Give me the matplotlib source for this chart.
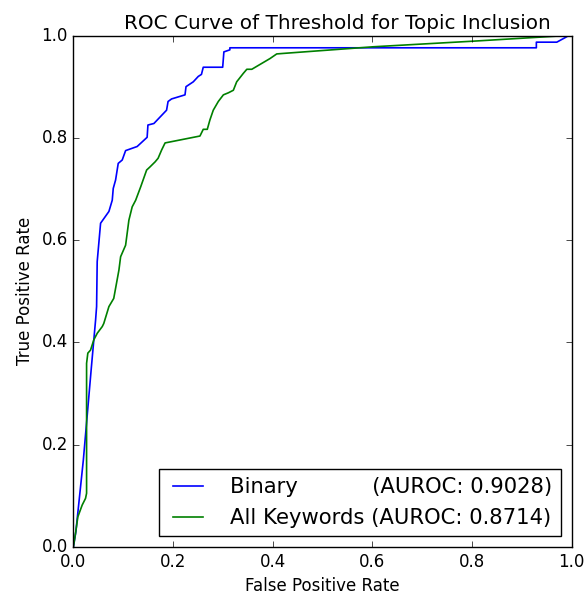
import matplotlib
matplotlib.use("Agg")
import matplotlib.pyplot as plt

# ROC points (false positive rate, true positive rate)
binary_fpr = [0.0, 0.005, 0.02, 0.028, 0.036, 0.0446, 0.0466, 0.0478, 0.0546, 0.0713,
              0.078, 0.080, 0.0847, 0.090, 0.098, 0.1048, 0.128, 0.148, 0.1496, 0.1616,
              0.187, 0.190, 0.197, 0.224, 0.226, 0.2406, 0.2506, 0.257, 0.2606, 0.2996,
              0.302, 0.314, 0.314, 0.929, 0.929, 0.970, 0.987, 0.994, 1.0]
binary_tpr = [0.0, 0.03, 0.17, 0.26, 0.35, 0.444, 0.47, 0.558, 0.633, 0.656,
              0.678, 0.701, 0.7175, 0.750, 0.7566, 0.775, 0.783, 0.801, 0.825, 0.828,
              0.854, 0.871, 0.876, 0.884, 0.900, 0.9095, 0.920, 0.924, 0.938, 0.938,
              0.968, 0.972, 0.976, 0.976, 0.987, 0.987, 0.996, 1.0, 1.0]

kw_fpr = [0.0, 0.0044, 0.009, 0.0177, 0.0244, 0.0265, 0.0265, 0.029, 0.0345, 0.041,
          0.048, 0.058, 0.061, 0.0713, 0.081, 0.0914, 0.0948, 0.1048, 0.1114, 0.118,
          0.125, 0.135, 0.147, 0.1536, 0.164, 0.170, 0.177, 0.184, 0.254, 0.2606,
          0.2687, 0.274, 0.2807, 0.2908, 0.301, 0.311, 0.321, 0.3277, 0.341, 0.348,
          0.358, 0.3946, 0.408, 0.421, 0.602, 0.803, 0.99, 1.0]
kw_tpr = [0.0, 0.027, 0.059, 0.082, 0.095, 0.105, 0.359, 0.379, 0.385, 0.405,
          0.418, 0.431, 0.437, 0.470, 0.486, 0.5415, 0.5675, 0.590, 0.639, 0.665,
          0.678, 0.704, 0.737, 0.743, 0.753, 0.760, 0.776, 0.790, 0.8035, 0.8166,
          0.8166, 0.835, 0.854, 0.871, 0.884, 0.888, 0.893, 0.9095, 0.926, 0.934,
          0.934, 0.955, 0.964, 0.965, 0.978, 0.989, 1.0, 1.0]

labels = ["Binary           (AUROC: 0.9028)", "All Keywords (AUROC: 0.8714)"]

plt.style.use("classic")
fig = plt.figure(figsize=(5.87, 5.97), dpi=100, facecolor="white")
ax = fig.add_axes([0.125, 0.0838, 0.849, 0.8567])

ax.plot(binary_fpr, binary_tpr, color="b", lw=1.2, label=labels[0])
ax.plot(kw_fpr, kw_tpr, color="g", lw=1.2, label=labels[1])

ax.set_xlim(0, 1)
ax.set_ylim(0, 1)
ax.set_xlabel("False Positive Rate", fontsize=12)
ax.set_ylabel("True Positive Rate", fontsize=12)
ax.set_title("ROC Curve of Threshold for Topic Inclusion", fontsize=14.4, x=0.529)
ax.tick_params(labelsize=12)
ax.legend(loc="lower right", fontsize=15.2, handletextpad=1.0)

fig.savefig("out.png", dpi=100, facecolor="white")
